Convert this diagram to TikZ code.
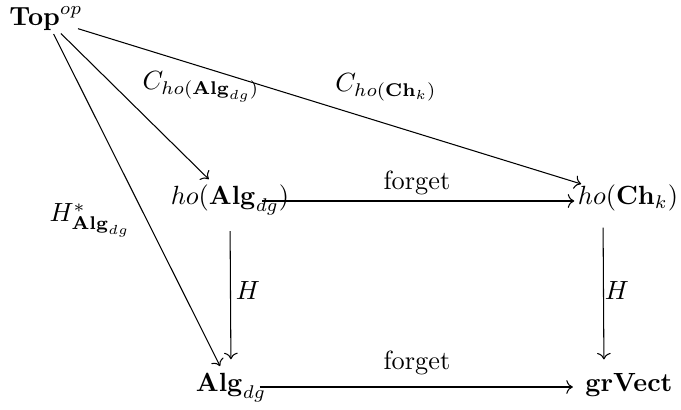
\documentclass[tikz,border=0pt]{standalone}
\usetikzlibrary{arrows.meta}
\tikzset{
  fn obj/.style={inner sep=0pt, anchor=base},
  fn arrow/.style={draw=black, line width=0.4pt, -To},
  fn label/.style={inner sep=0pt, anchor=base},
}

\begin{document}
\begin{tikzpicture}[x=0.38pt,y=-0.38pt]
  \useasboundingbox (0,0) rectangle (681,410);
  % objects
  \node[fn obj] (top) at (46,26) {$\mathbf{Top}^{op}$};
  \node[fn obj] (hoAlg) at (230,205) {$ho(\mathbf{Alg}_{dg})$};
  \node[fn obj] (hoCh) at (628,205) {$ho(\mathbf{Ch}_k)$};
  \node[fn obj] (alg) at (231,392) {$\mathbf{Alg}_{dg}$};
  \node[fn obj] (grV) at (629,392) {$\mathbf{grVect}$};
  % arrows
  \draw[fn arrow, shorten <=1pt, shorten >=3pt] (top) -- (hoAlg);
  \draw[fn arrow, shorten <=-2pt, shorten >=1pt] (top) -- (hoCh);
  \draw[fn arrow, shorten <=1pt, shorten >=3pt] (top) -- (alg);
  \draw[fn arrow, shorten <=-10.6pt, shorten >=1.2pt]
    ([yshift=1.52pt]hoAlg.base east) -- ([yshift=1.52pt]hoCh.base west);
  \draw[fn arrow, shorten <=-2.6pt, shorten >=4.6pt]
    ([yshift=1.9pt]alg.base east) -- ([yshift=1.9pt]grV.base west);
  \draw[fn arrow, shorten <=5.9pt, shorten >=5.3pt] (hoAlg.south) -- (alg.north);
  \draw[fn arrow, shorten <=5.9pt, shorten >=5.3pt]
    ([xshift=-9.5pt]hoCh.south) -- ([xshift=-9.5pt]grV.north);
  % labels
  \node[fn label] (lCA) at (201,90) {$C_{ho(\mathbf{Alg}_{dg})}$};
  \node[fn label] (lCC) at (386,92) {$C_{ho(\mathbf{Ch}_k)}$};
  \node[fn label] (lHs) at (90,222) {$H^*_{\mathbf{Alg}_{dg}}$};
  \node[fn label] (lF1) at (417,190) {forget};
  \node[fn label] (lF2) at (417,370) {forget};
  \node[fn label] (lH1) at (248,300) {$H$};
  \node[fn label] (lH2) at (617,300) {$H$};
\end{tikzpicture}
\end{document}
